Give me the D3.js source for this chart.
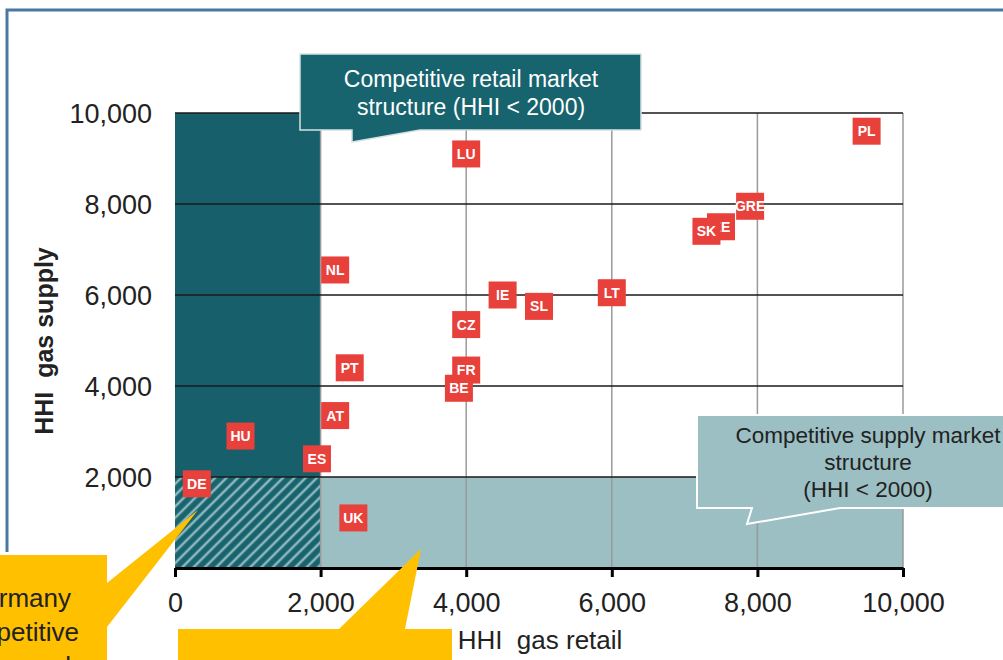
<!DOCTYPE html>
<html>
<head>
<meta charset="utf-8">
<script src="https://cdn.jsdelivr.net/npm/d3@7"></script>
<style>
  body { margin: 0; background: #fff; }
  svg { display: block; font-family: "Liberation Sans", Arial, sans-serif; }
</style>
</head>
<body>
<svg id="chart" width="1003" height="660"></svg>
<script>
// country markers: HHI gas retail (x) vs HHI gas supply (y)
const countries = ["PL", "LU", "GRE", "EE", "SK", "NL", "IE", "LT", "SL", "CZ", "PT", "FR", "BE", "AT", "HU", "ES", "DE", "UK"];
const retailHHI = [9500, 4000, 7900, 7500, 7300, 2200, 4500, 6000, 5000, 4000, 2400, 4000, 3900, 2200, 900, 1950, 300, 2450];
const supplyHHI = [9600, 9100, 7950, 7500, 7400, 6550, 6000, 6050, 5750, 5350, 4400, 4350, 3950, 3350, 2900, 2400, 1850, 1100];

const xTicks = [0, 2000, 4000, 6000, 8000, 10000];
const yTicks = [2000, 4000, 6000, 8000, 10000];
const threshold = 2000;

const svg = d3.select("#chart");

const x = d3.scaleLinear().domain([0, 10000]).range([175, 903]);
const y = d3.scaleLinear().domain([0, 10000]).range([568, 113]);

// outer frame
svg.append("path")
    .attr("d", "M7,552 V10 H1010")
    .attr("fill", "none")
    .attr("stroke", "#4a78a0")
    .attr("stroke-width", 3);

// hatch pattern
const defs = svg.append("defs");
const pat = defs.append("pattern")
    .attr("id", "hatch")
    .attr("patternUnits", "userSpaceOnUse")
    .attr("width", 8).attr("height", 8)
    .attr("patternTransform", "rotate(45)");
pat.append("rect").attr("width", 8).attr("height", 8).attr("fill", "#17636e");
pat.append("line").attr("x1", 2).attr("y1", 0).attr("x2", 2).attr("y2", 8)
    .attr("stroke", "#8fb8bd").attr("stroke-width", 2.5);

// zones
svg.append("rect")
    .attr("x", x(0)).attr("y", y(10000))
    .attr("width", x(threshold) - x(0)).attr("height", y(threshold) - y(10000))
    .attr("fill", "#17606b");
svg.append("rect")
    .attr("x", x(0)).attr("y", y(threshold))
    .attr("width", x(threshold) - x(0)).attr("height", y(0) - y(threshold))
    .attr("fill", "url(#hatch)");
svg.append("rect")
    .attr("x", x(threshold)).attr("y", y(threshold))
    .attr("width", x(10000) - x(threshold)).attr("height", y(0) - y(threshold))
    .attr("fill", "#9bbfc3");

// vertical grid
svg.append("g")
    .selectAll("line")
    .data(xTicks.slice(1))
    .join("line")
    .attr("x1", d => x(d)).attr("x2", d => x(d))
    .attr("y1", y(10000)).attr("y2", y(0))
    .attr("stroke", "#9a9a9a")
    .attr("stroke-width", 1.5);

// horizontal grid
svg.append("g")
    .selectAll("line")
    .data(yTicks)
    .join("line")
    .attr("x1", x(0)).attr("x2", x(10000))
    .attr("y1", d => y(d)).attr("y2", d => y(d))
    .attr("stroke", "#1a1a1a")
    .attr("stroke-width", 1.5);

// x axis
const xAxis = svg.append("g")
    .attr("transform", `translate(0,${y(0)})`)
    .call(d3.axisBottom(x).tickValues(xTicks).tickFormat(d3.format(",")).tickSize(9).tickSizeOuter(0));
xAxis.select(".domain").attr("stroke", "#000").attr("stroke-width", 3);
xAxis.selectAll(".tick line").attr("stroke", "#000").attr("stroke-width", 3);
xAxis.selectAll(".tick text")
    .attr("y", 0).attr("dy", 0)
    .attr("transform", "translate(0,44)")
    .attr("font-size", 27)
    .attr("font-family", "Liberation Sans, Arial, sans-serif")
    .attr("fill", "#222");

// y axis
const yAxis = svg.append("g")
    .attr("transform", `translate(${x(0)},0)`)
    .call(d3.axisLeft(y).tickValues(yTicks).tickFormat(d3.format(",")).tickSize(0));
yAxis.select(".domain").remove();
yAxis.selectAll(".tick text")
    .attr("x", -23)
    .attr("dy", "0.35em")
    .attr("font-size", 27)
    .attr("font-family", "Liberation Sans, Arial, sans-serif")
    .attr("fill", "#222");

// axis titles
svg.append("text")
    .attr("x", 540).attr("y", 649)
    .attr("text-anchor", "middle")
    .attr("font-size", 26)
    .attr("fill", "#222")
    .attr("xml:space", "preserve")
    .text("HHI  gas retail");

svg.append("text")
    .attr("transform", "translate(53,341) rotate(-90)")
    .attr("text-anchor", "middle")
    .attr("font-size", 25)
    .attr("font-weight", "bold")
    .attr("fill", "#222")
    .attr("xml:space", "preserve")
    .text("HHI  gas supply");

// markers
const points = countries.map((c, i) => ({ code: c, rx: retailHHI[i], sy: supplyHHI[i] }));
const mw = 28, mh = 27;
const marker = svg.append("g")
    .selectAll("g")
    .data(points)
    .join("g")
    .attr("transform", d => `translate(${x(d.rx)},${y(d.sy)})`);
marker.append("rect")
    .attr("x", -mw / 2).attr("y", -mh / 2)
    .attr("width", mw).attr("height", mh)
    .attr("fill", "#e8403a");
marker.append("text")
    .attr("text-anchor", "middle")
    .attr("dy", "0.36em")
    .attr("font-size", 14)
    .attr("font-weight", "bold")
    .attr("fill", "#fff")
    .text(d => d.code);

// callouts
svg.append("path")
    .attr("d", "M300,54 H641 V130 H420 L352,142 V130 H300 Z")
    .attr("fill", "#17636e")
    .attr("stroke", "#d5e2e4")
    .attr("stroke-width", 1.5);
svg.append("text")
    .attr("text-anchor", "middle")
    .attr("font-size", 23)
    .attr("fill", "#fff")
    .selectAll("tspan")
    .data(["Competitive retail market", "structure (HHI < 2000)"])
    .join("tspan")
    .attr("x", 471)
    .attr("y", (d, i) => 87 + i * 28)
    .text(d => d);

svg.append("path")
    .attr("d", "M697,415 H1010 V508 H840 L747,524 L752,508 H697 Z")
    .attr("fill", "#9bbfc3")
    .attr("stroke", "#fff")
    .attr("stroke-width", 2);
svg.append("text")
    .attr("text-anchor", "middle")
    .attr("font-size", 22.5)
    .attr("fill", "#222")
    .selectAll("tspan")
    .data(["Competitive supply market", "structure", "(HHI < 2000)"])
    .join("tspan")
    .attr("x", 868)
    .attr("y", (d, i) => 443 + i * 27)
    .text(d => d);

// yellow notes
svg.append("path")
    .attr("d", "M-5,555 H107 V583 L198,510 L107,627 V670 H-5 Z")
    .attr("fill", "#ffc000");
svg.append("text")
    .attr("text-anchor", "end")
    .attr("font-size", 26)
    .attr("fill", "#222")
    .selectAll("tspan")
    .data(["Germany", "competitive", "supply"])
    .join("tspan")
    .attr("x", (d, i) => [71, 79, 84][i])
    .attr("y", (d, i) => 607 + i * 34)
    .text(d => d);

svg.append("path")
    .attr("d", "M178,629 H339 L421,549 L405,629 H452 V670 H178 Z")
    .attr("fill", "#ffc000");
</script>
</body>
</html>
